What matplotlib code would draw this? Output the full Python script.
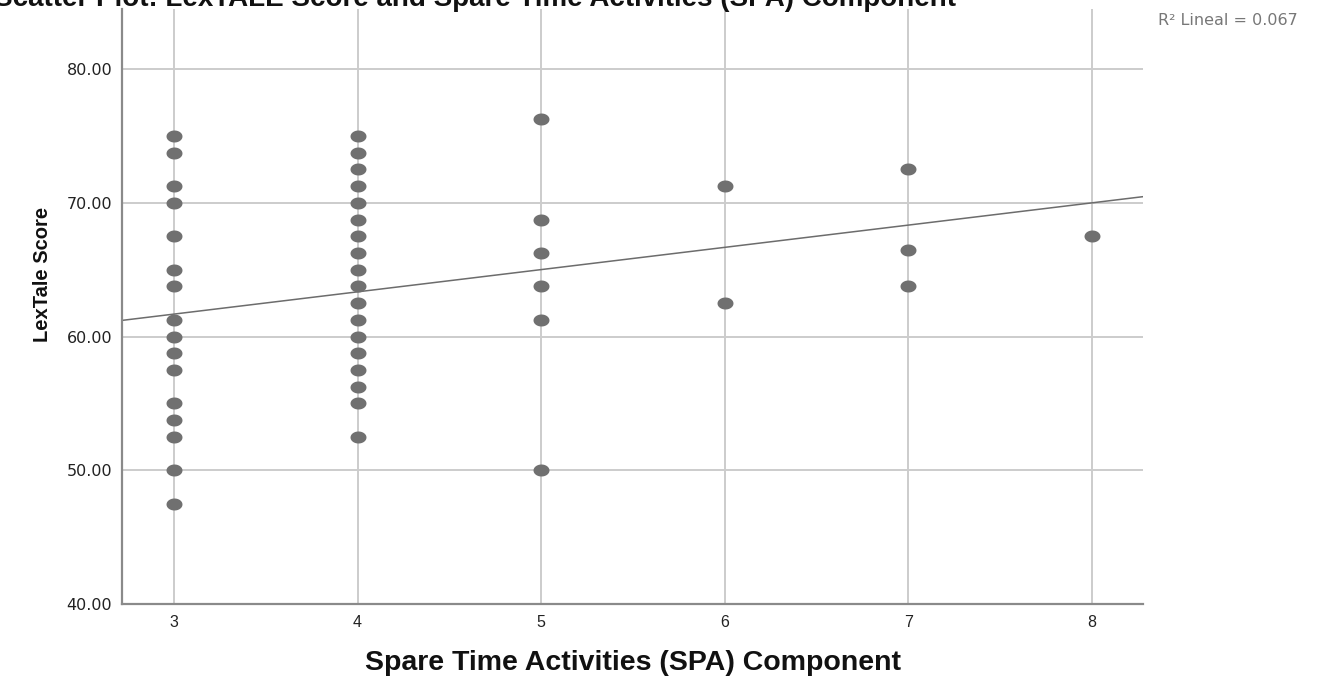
import numpy as np
import matplotlib
matplotlib.use("Agg")
import matplotlib.pyplot as plt
from matplotlib.path import Path

# Spare Time Activities (SPA) component score and LexTALE score per participant
spa_3 = [75.00, 73.75, 71.25, 70.00, 67.50, 65.00, 63.75, 61.25, 60.00,
         58.75, 57.50, 55.00, 53.75, 52.50, 50.00, 47.50]
spa_4 = [75.00, 73.75, 72.50, 71.25, 70.00, 68.75, 67.50, 66.25, 65.00,
         63.75, 62.50, 61.25, 60.00, 58.75, 57.50, 56.25, 55.00, 52.50]
spa_5 = [76.25, 68.75, 66.25, 63.75, 61.25, 50.00]
spa_6 = [71.25, 62.50]
spa_7 = [72.50, 66.50, 63.75]
spa_8 = [67.50]

spa_levels = [3, 4, 5, 6, 7, 8]
lextale_groups = [spa_3, spa_4, spa_5, spa_6, spa_7, spa_8]

# Linear fit line and its reported R squared
fit_intercept = 56.69
fit_slope = 1.664
r_squared = 0.067

x_ticks = [3, 4, 5, 6, 7, 8]
y_ticks = [40, 50, 60, 70, 80]

W, H = 1318, 679
fig = plt.figure(figsize=(W / 100, H / 100), dpi=100)
fig.patch.set_facecolor("white")

ax = fig.add_axes([122 / W, 1 - 604 / H, (1143 - 122) / W, (604 - 9) / H])
ax.set_xlim(2.717, 8.278)
ax.set_ylim(40, 84.5)

# slightly wide elliptical marker
t = np.linspace(0, 2 * np.pi, 60)
ellipse = Path(np.column_stack([1.33 * np.cos(t), np.sin(t)]), closed=True)

xs = np.concatenate([[lvl] * len(g) for lvl, g in zip(spa_levels, lextale_groups)])
ys = np.concatenate(lextale_groups)
ax.plot(xs, ys, linestyle="none", marker=ellipse, markersize=11.5,
        color="#707070", markeredgewidth=0, zorder=3)

fx = np.array(ax.get_xlim())
ax.plot(fx, fit_intercept + fit_slope * fx, color="#6c6c6c", linewidth=1.1,
        zorder=2, clip_on=True)

ax.set_xticks(x_ticks)
ax.set_yticks(y_ticks)
ax.set_xticklabels([str(v) for v in x_ticks], fontfamily="Liberation Sans",
                   fontsize=11.5, color="#222222")
ax.set_yticklabels([f"{v:.2f}" for v in y_ticks], fontfamily="DejaVu Sans",
                   fontsize=11.5, color="#222222")
ax.tick_params(axis="both", length=0)
ax.tick_params(axis="x", pad=8)
ax.tick_params(axis="y", pad=7)

ax.grid(True, color="#cccccc", linewidth=1.4, zorder=0)
ax.set_axisbelow(True)
for side in ("top", "right"):
    ax.spines[side].set_visible(False)
ax.spines["left"].set_color("#8a8a8a")
ax.spines["left"].set_linewidth(1.6)
ax.spines["bottom"].set_color("#8a8a8a")
ax.spines["bottom"].set_linewidth(1.6)

fig.text(42 / W, 1 - 274 / H, "LexTale Score", rotation=90, ha="center",
         va="center", fontfamily="Liberation Sans", fontweight="bold",
         fontsize=14.5, color="#111111")
fig.text(633 / W, 1 - 670 / H, "Spare Time Activities (SPA) Component",
         ha="center", va="baseline", fontfamily="Liberation Sans",
         fontweight="bold", fontsize=20.5, color="#111111")
fig.text(475 / W, 1 - 6 / H,
         "Scatter Plot: LexTALE Score and Spare Time Activities (SPA) Component",
         ha="center", va="baseline", fontfamily="Liberation Sans",
         fontweight="bold", fontsize=20, color="#111111")
fig.text(1298 / W, 1 - 25 / H, f"R\u00b2 Lineal = {r_squared:.3f}",
         ha="right", va="baseline", fontfamily="DejaVu Sans",
         fontsize=11.5, color="#777777")

fig.savefig("out.png", dpi=100, facecolor="white")
